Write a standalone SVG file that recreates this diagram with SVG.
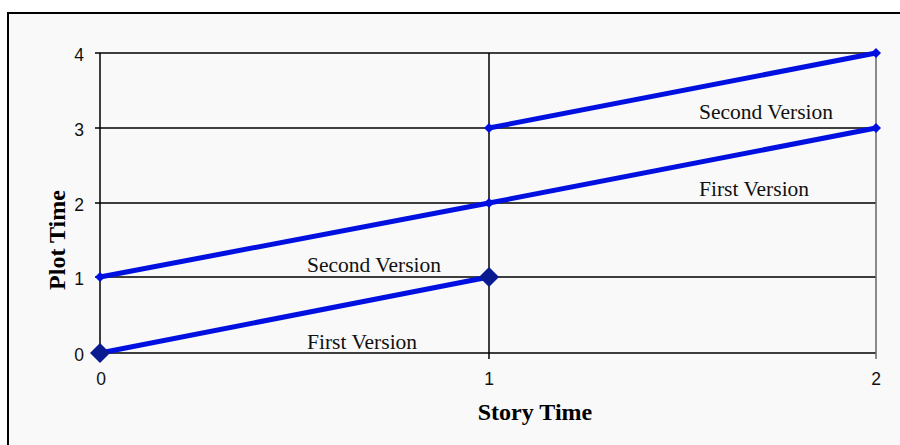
<svg xmlns="http://www.w3.org/2000/svg" width="900" height="445" viewBox="0 0 900 445">
<style>
.grid{stroke:#000;stroke-width:1.5;fill:none}
.tick{font-family:"Liberation Sans",Arial,sans-serif;font-size:17.5px;fill:#111}
.lbl{font-family:"Liberation Serif","Times New Roman",serif;font-size:21.5px;fill:#111}
.ax{font-family:"Liberation Serif","Times New Roman",serif;font-size:24px;font-weight:bold;fill:#000}
.ser{stroke:#0010e0;stroke-width:5;fill:none;stroke-linecap:round}
.mk{fill:#0010e0}
.mkd{fill:#0a1a8f}
</style>
<rect x="0" y="0" width="900" height="445" fill="#fff"/>
<rect x="8" y="13" width="900" height="440" fill="#f9f9f9" stroke="#000" stroke-width="2"/>
<g id="grid">
<path class="grid" d="M95 53H876M95 128H876M95 203H876M95 277H876M95 353H876"/>
<path class="grid" d="M100 53V359M489 53V359"/>
<path d="M876 53V359" stroke="#666" stroke-width="1.5"/>
</g>
<g id="ticks">
<text class="tick" x="84" y="61" text-anchor="end">4</text>
<text class="tick" x="84" y="136" text-anchor="end">3</text>
<text class="tick" x="84" y="211" text-anchor="end">2</text>
<text class="tick" x="84" y="285" text-anchor="end">1</text>
<text class="tick" x="84" y="361" text-anchor="end">0</text>
<text class="tick" x="101" y="385" text-anchor="middle">0</text>
<text class="tick" x="489" y="385" text-anchor="middle">1</text>
<text class="tick" x="876" y="385" text-anchor="middle">2</text>
</g>
<g id="axis-titles">
<text class="ax" x="535" y="420" text-anchor="middle">Story Time</text>
<text class="ax" transform="translate(65,240) rotate(-90)" text-anchor="middle">Plot Time</text>
</g>
<g id="connectors">
<path class="ser" d="M100 353L489 277"/>
<path class="ser" d="M100 277L489 203L876 128"/>
<path class="ser" d="M489 128L876 53"/>
</g>
<g id="markers">
<path class="mkd" d="M100 343L110 353L100 363L90 353Z"/>
<path class="mkd" d="M489 267L499 277L489 287L479 277Z"/>
<path class="mk" d="M100 272L105 277L100 282L95 277Z"/>
<path class="mk" d="M489 198L494 203L489 208L484 203Z"/>
<path class="mk" d="M876 123L881 128L876 133L871 128Z"/>
<path class="mk" d="M489 123L494 128L489 133L484 128Z"/>
<path class="mk" d="M876 48L881 53L876 58L871 53Z"/>
</g>
<g id="labels">
<text class="lbl" x="699" y="119">Second Version</text>
<text class="lbl" x="699" y="196">First Version</text>
<text class="lbl" x="307" y="272">Second Version</text>
<text class="lbl" x="307" y="349">First Version</text>
</g>
</svg>
